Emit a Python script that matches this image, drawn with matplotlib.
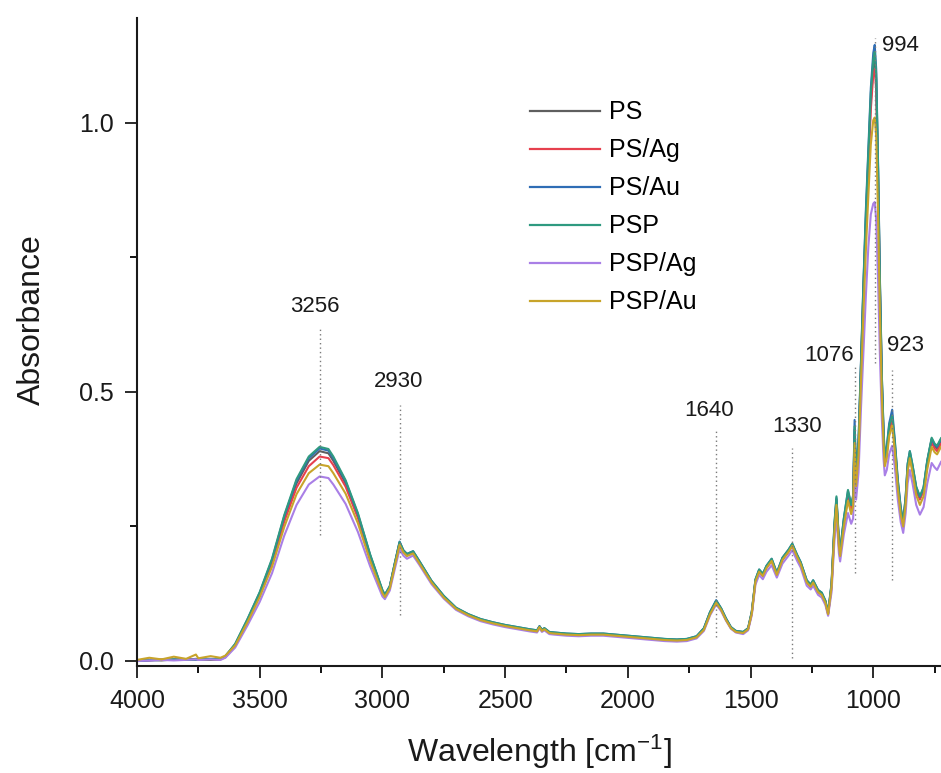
#!/usr/bin/env python3
"""FTIR absorbance spectra of PS / PSP films with Ag and Au, with labelled peaks."""
import matplotlib
matplotlib.use("Agg")
import matplotlib.pyplot as plt
from matplotlib.ticker import MultipleLocator, FormatStrFormatter

# wavenumber grid (cm^-1)
WN = [
    4000, 3950, 3900, 3850, 3800, 3760, 3750, 3700, 3660, 3640,
    3600, 3550, 3500, 3450, 3400, 3350, 3300, 3256, 3220, 3200,
    3150, 3100, 3050, 3000, 2990, 2970, 2950, 2930, 2915, 2900,
    2875, 2850, 2800, 2750, 2700, 2650, 2600, 2550, 2500, 2450,
    2400, 2370, 2360, 2350, 2340, 2320, 2300, 2250, 2200, 2150,
    2100, 2050, 2000, 1950, 1900, 1850, 1800, 1760, 1720, 1690,
    1665, 1640, 1620, 1600, 1580, 1560, 1530, 1510, 1495, 1480,
    1465, 1450, 1435, 1414, 1393, 1370, 1345, 1330, 1310, 1296,
    1271, 1255, 1245, 1225, 1210, 1195, 1184, 1170, 1158, 1150,
    1140, 1135, 1120, 1103, 1090, 1082, 1076, 1070, 1060, 1050,
    1040, 1030, 1020, 1010, 1000, 994, 988, 980, 973, 965,
    958, 953, 945, 935, 923, 912, 900, 888, 878, 868,
    860, 851, 840, 825, 810, 795, 780, 762, 750, 740,
    724,
]

PS = [
    0.000, 0.002, 0.001, 0.003, 0.002, 0.004, 0.003, 0.002, 0.004, 0.008,
    0.030, 0.075, 0.125, 0.185, 0.265, 0.330, 0.372, 0.390, 0.386, 0.372,
    0.330, 0.270, 0.195, 0.130, 0.122, 0.138, 0.180, 0.220, 0.205, 0.198,
    0.203, 0.185, 0.148, 0.120, 0.098, 0.086, 0.077, 0.071, 0.066, 0.062,
    0.058, 0.056, 0.064, 0.057, 0.060, 0.053, 0.052, 0.050, 0.049, 0.050,
    0.050, 0.048, 0.046, 0.044, 0.042, 0.040, 0.039, 0.040, 0.045, 0.060,
    0.090, 0.112, 0.097, 0.078, 0.062, 0.055, 0.053, 0.060, 0.090, 0.150,
    0.168, 0.160, 0.175, 0.188, 0.162, 0.190, 0.205, 0.216, 0.195, 0.182,
    0.148, 0.140, 0.148, 0.130, 0.125, 0.110, 0.088, 0.140, 0.250, 0.300,
    0.220, 0.200, 0.260, 0.310, 0.285, 0.300, 0.430, 0.340, 0.400, 0.550,
    0.690, 0.820, 0.930, 1.040, 1.105, 1.120, 1.080, 0.900, 0.700, 0.520,
    0.420, 0.375, 0.390, 0.430, 0.450, 0.400, 0.330, 0.280, 0.255, 0.300,
    0.360, 0.385, 0.360, 0.320, 0.303, 0.320, 0.370, 0.412, 0.400, 0.395,
    0.410,
]

PS_AG = [
    0.001, 0.001, 0.003, 0.002, 0.003, 0.003, 0.004, 0.003, 0.003, 0.007,
    0.028, 0.073, 0.122, 0.181, 0.259, 0.322, 0.362, 0.380, 0.377, 0.364,
    0.324, 0.266, 0.192, 0.128, 0.121, 0.136, 0.178, 0.218, 0.203, 0.196,
    0.201, 0.183, 0.147, 0.119, 0.097, 0.085, 0.076, 0.070, 0.065, 0.061,
    0.057, 0.055, 0.063, 0.056, 0.059, 0.052, 0.051, 0.049, 0.048, 0.049,
    0.049, 0.047, 0.045, 0.043, 0.041, 0.039, 0.038, 0.039, 0.044, 0.059,
    0.088, 0.110, 0.096, 0.077, 0.061, 0.054, 0.052, 0.059, 0.089, 0.148,
    0.166, 0.158, 0.173, 0.186, 0.160, 0.188, 0.203, 0.214, 0.193, 0.180,
    0.146, 0.138, 0.146, 0.128, 0.123, 0.108, 0.087, 0.138, 0.245, 0.295,
    0.216, 0.197, 0.255, 0.305, 0.280, 0.295, 0.420, 0.335, 0.395, 0.540,
    0.680, 0.805, 0.915, 1.025, 1.090, 1.100, 1.060, 0.880, 0.690, 0.512,
    0.414, 0.370, 0.385, 0.425, 0.445, 0.396, 0.327, 0.277, 0.252, 0.297,
    0.355, 0.380, 0.355, 0.316, 0.300, 0.316, 0.365, 0.406, 0.395, 0.390,
    0.404,
]

PS_AU = [
    0.000, 0.001, 0.002, 0.002, 0.003, 0.002, 0.003, 0.004, 0.003, 0.009,
    0.031, 0.077, 0.127, 0.188, 0.269, 0.335, 0.377, 0.395, 0.391, 0.377,
    0.334, 0.273, 0.197, 0.131, 0.123, 0.139, 0.181, 0.222, 0.206, 0.199,
    0.204, 0.186, 0.149, 0.121, 0.099, 0.087, 0.078, 0.072, 0.067, 0.063,
    0.059, 0.057, 0.065, 0.058, 0.061, 0.054, 0.053, 0.051, 0.050, 0.051,
    0.051, 0.049, 0.047, 0.045, 0.043, 0.041, 0.040, 0.041, 0.046, 0.061,
    0.091, 0.113, 0.098, 0.079, 0.063, 0.056, 0.054, 0.061, 0.091, 0.151,
    0.170, 0.162, 0.177, 0.190, 0.164, 0.192, 0.207, 0.218, 0.197, 0.184,
    0.150, 0.142, 0.150, 0.132, 0.127, 0.112, 0.090, 0.143, 0.255, 0.303,
    0.224, 0.204, 0.264, 0.316, 0.290, 0.308, 0.448, 0.345, 0.410, 0.560,
    0.705, 0.840, 0.955, 1.065, 1.130, 1.145, 1.100, 0.915, 0.712, 0.530,
    0.428, 0.380, 0.398, 0.442, 0.467, 0.410, 0.337, 0.285, 0.260, 0.305,
    0.366, 0.390, 0.364, 0.323, 0.305, 0.322, 0.372, 0.413, 0.402, 0.398,
    0.412,
]

PSP = [
    0.001, 0.002, 0.002, 0.003, 0.002, 0.003, 0.004, 0.003, 0.004, 0.009,
    0.032, 0.078, 0.128, 0.190, 0.271, 0.338, 0.380, 0.398, 0.394, 0.380,
    0.336, 0.275, 0.198, 0.132, 0.123, 0.139, 0.181, 0.221, 0.206, 0.199,
    0.204, 0.186, 0.149, 0.121, 0.099, 0.087, 0.078, 0.072, 0.067, 0.063,
    0.059, 0.057, 0.064, 0.058, 0.061, 0.054, 0.053, 0.051, 0.050, 0.051,
    0.051, 0.049, 0.047, 0.045, 0.043, 0.041, 0.040, 0.041, 0.046, 0.061,
    0.091, 0.112, 0.098, 0.079, 0.063, 0.056, 0.054, 0.061, 0.092, 0.152,
    0.170, 0.162, 0.177, 0.190, 0.164, 0.192, 0.207, 0.218, 0.197, 0.184,
    0.150, 0.142, 0.150, 0.132, 0.127, 0.112, 0.090, 0.145, 0.258, 0.306,
    0.224, 0.205, 0.265, 0.318, 0.290, 0.306, 0.436, 0.345, 0.408, 0.556,
    0.700, 0.832, 0.945, 1.055, 1.118, 1.132, 1.090, 0.908, 0.708, 0.528,
    0.426, 0.379, 0.396, 0.438, 0.456, 0.406, 0.335, 0.284, 0.259, 0.305,
    0.366, 0.390, 0.364, 0.324, 0.306, 0.323, 0.373, 0.415, 0.404, 0.400,
    0.414,
]

PSP_AG = [
    0.000, 0.001, 0.002, 0.001, 0.002, 0.003, 0.002, 0.003, 0.002, 0.006,
    0.025, 0.066, 0.110, 0.163, 0.233, 0.290, 0.328, 0.343, 0.340, 0.328,
    0.292, 0.240, 0.176, 0.120, 0.115, 0.131, 0.170, 0.208, 0.196, 0.190,
    0.196, 0.179, 0.143, 0.116, 0.095, 0.083, 0.074, 0.068, 0.063, 0.059,
    0.055, 0.053, 0.061, 0.054, 0.057, 0.050, 0.049, 0.047, 0.046, 0.047,
    0.047, 0.045, 0.043, 0.041, 0.039, 0.037, 0.036, 0.037, 0.042, 0.056,
    0.085, 0.105, 0.093, 0.075, 0.060, 0.053, 0.050, 0.057, 0.085, 0.142,
    0.160, 0.152, 0.166, 0.178, 0.155, 0.181, 0.196, 0.206, 0.186, 0.174,
    0.140, 0.133, 0.140, 0.123, 0.118, 0.104, 0.084, 0.128, 0.225, 0.270,
    0.200, 0.185, 0.235, 0.275, 0.255, 0.265, 0.360, 0.300, 0.350, 0.470,
    0.575, 0.680, 0.770, 0.830, 0.850, 0.853, 0.820, 0.700, 0.570, 0.450,
    0.375, 0.345, 0.355, 0.385, 0.400, 0.360, 0.300, 0.258, 0.238, 0.275,
    0.330, 0.355, 0.330, 0.290, 0.272, 0.286, 0.330, 0.368, 0.360, 0.355,
    0.370,
]

PSP_AU = [
    0.002, 0.006, 0.003, 0.008, 0.004, 0.012, 0.005, 0.009, 0.006, 0.010,
    0.029, 0.072, 0.119, 0.175, 0.249, 0.310, 0.349, 0.365, 0.362, 0.349,
    0.311, 0.256, 0.186, 0.126, 0.119, 0.135, 0.176, 0.216, 0.202, 0.195,
    0.200, 0.182, 0.146, 0.118, 0.097, 0.085, 0.076, 0.070, 0.065, 0.061,
    0.057, 0.055, 0.063, 0.056, 0.059, 0.052, 0.051, 0.049, 0.048, 0.049,
    0.049, 0.047, 0.045, 0.043, 0.041, 0.039, 0.038, 0.039, 0.044, 0.058,
    0.087, 0.108, 0.095, 0.076, 0.061, 0.054, 0.052, 0.059, 0.088, 0.148,
    0.166, 0.158, 0.173, 0.186, 0.160, 0.188, 0.203, 0.214, 0.193, 0.180,
    0.146, 0.138, 0.146, 0.128, 0.123, 0.108, 0.087, 0.137, 0.242, 0.290,
    0.213, 0.195, 0.250, 0.298, 0.273, 0.288, 0.405, 0.325, 0.382, 0.520,
    0.650, 0.765, 0.865, 0.960, 1.005, 1.010, 0.975, 0.820, 0.650, 0.490,
    0.402, 0.362, 0.377, 0.418, 0.438, 0.390, 0.320, 0.272, 0.250, 0.292,
    0.352, 0.377, 0.350, 0.308, 0.290, 0.306, 0.356, 0.398, 0.388, 0.384,
    0.398,
]

SERIES_NAMES = ["PS", "PS/Ag", "PS/Au", "PSP", "PSP/Ag", "PSP/Au"]
SERIES_VALUES = [PS, PS_AG, PS_AU, PSP, PSP_AG, PSP_AU]
COLORS = ["#5f5f5f", "#e6404e", "#2f6db5", "#2f9a80", "#a97fe6", "#c8a42a"]

# peak markers: position, dotted line extent, label anchor
PEAKS = [3256, 2930, 1640, 1330, 1076, 923, 994]
PEAK_LINE_TOP = [0.621, 0.476, 0.432, 0.395, 0.550, 0.541, 1.158]
PEAK_LINE_BOTTOM = [0.234, 0.086, 0.045, 0.006, 0.164, 0.151, 0.554]
PEAK_LABEL_X = [3277, 2935, 1669, 1312, 1180, 868, 889]
PEAK_LABEL_Y = [0.658, 0.520, 0.466, 0.435, 0.567, 0.587, 1.143]


def make_plot() -> None:
    plt.rcParams["font.family"] = ["Liberation Sans", "DejaVu Sans"]
    plt.rcParams["mathtext.default"] = "regular"

    fig = plt.figure(figsize=(9.41, 7.73), dpi=100)
    ax = fig.add_axes([137 / 941, 107 / 773, 804 / 941, 648 / 773])

    for name, values, color in zip(SERIES_NAMES, SERIES_VALUES, COLORS):
        ax.plot(WN, values, color=color, lw=1.5, label=name)

    for wn, top, bottom, lx, ly in zip(PEAKS, PEAK_LINE_TOP, PEAK_LINE_BOTTOM, PEAK_LABEL_X, PEAK_LABEL_Y):
        ax.plot([wn, wn], [bottom, top], ls=(0, (1, 2.2)), color="#7a7a7a", lw=1.0, zorder=5)
        ax.text(lx, ly, str(wn), ha="center", va="center", fontsize=16, color="#1a1a1a")

    ax.set_xlim(4000, 724)
    ax.set_ylim(-0.0093, 1.195)
    ax.xaxis.set_major_locator(MultipleLocator(500))
    ax.xaxis.set_minor_locator(MultipleLocator(250))
    ax.yaxis.set_major_locator(MultipleLocator(0.5))
    ax.yaxis.set_minor_locator(MultipleLocator(0.25))
    ax.yaxis.set_major_formatter(FormatStrFormatter("%.1f"))
    ax.tick_params(which="major", direction="out", length=8.5, width=1.3, labelsize=18, pad=8, colors="#1a1a1a")
    ax.tick_params(which="minor", direction="out", length=5, width=1.3)

    for spine in ["top", "right"]:
        ax.spines[spine].set_visible(False)
    for spine in ["left", "bottom"]:
        ax.spines[spine].set_linewidth(1.5)
        ax.spines[spine].set_color("#1a1a1a")

    ax.set_ylabel("Absorbance", fontsize=23, va="center", color="#1a1a1a")
    ax.yaxis.set_label_coords(-0.131, 0.534)
    ax.set_xlabel("Wavelength [cm$^{-1}$]", fontsize=23, va="center", color="#1a1a1a")
    ax.xaxis.set_label_coords(0.5, -0.133)

    leg = ax.legend(
        loc="upper left",
        bbox_to_anchor=(0.489, 0.873),
        frameon=False,
        fontsize=18,
        handlelength=2.8,
        handletextpad=0.35,
        labelspacing=0.56,
        borderpad=0,
        borderaxespad=0,
    )
    for line in leg.get_lines():
        line.set_linewidth(1.6)

    fig.savefig("out.png", dpi=100)
    plt.close(fig)


def main() -> None:
    make_plot()


if __name__ == "__main__":
    main()
